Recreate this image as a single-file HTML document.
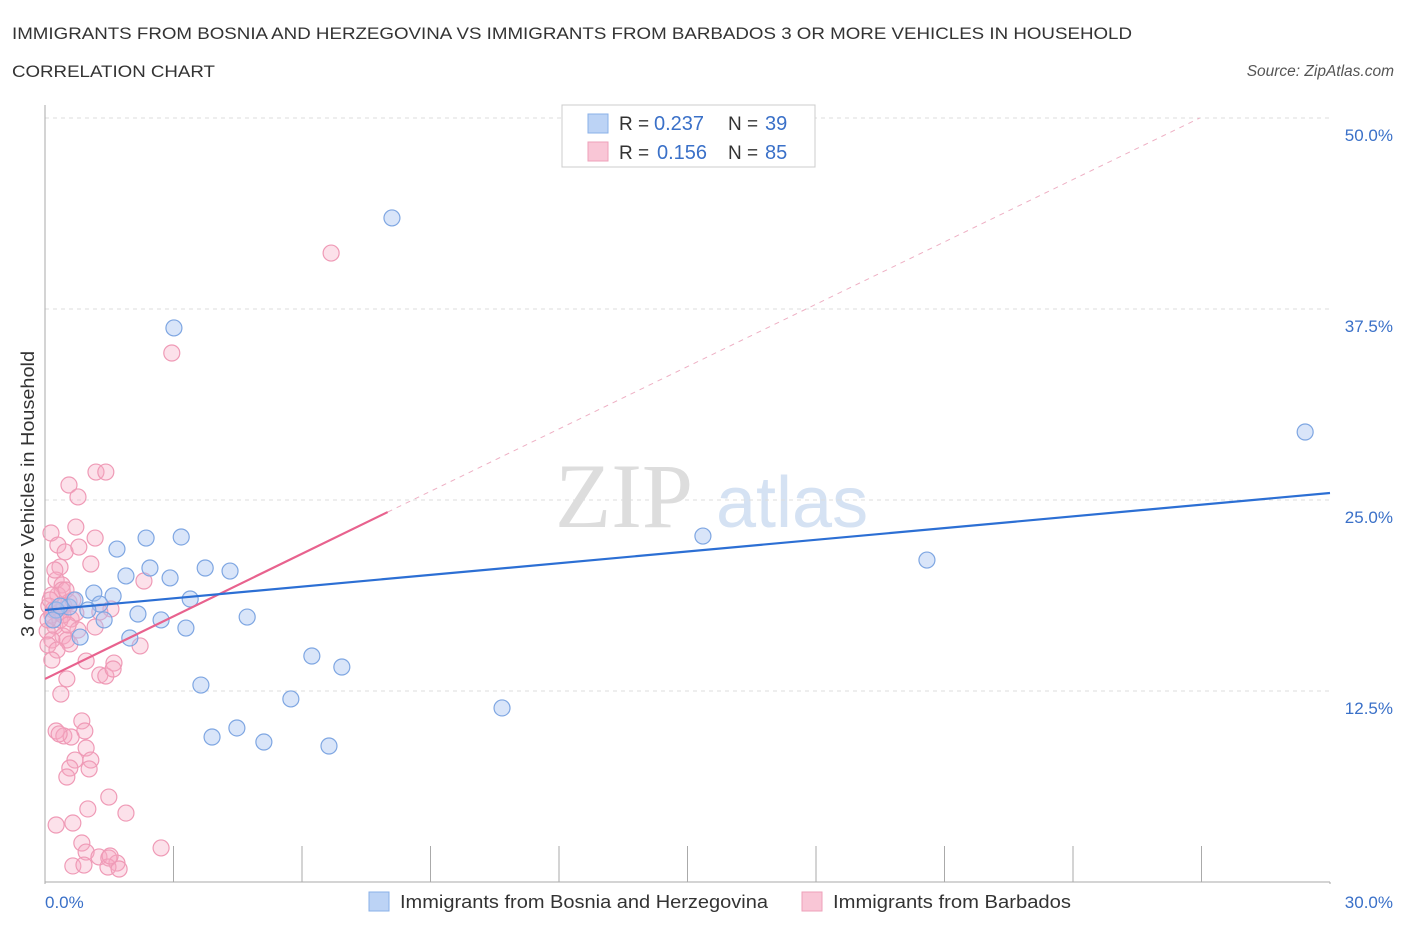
<!DOCTYPE html>
<html><head><meta charset="utf-8"><style>
body{margin:0;background:#fff;font-family:"Liberation Sans",sans-serif;}
</style></head><body>
<svg id="chart" width="1406" height="930" xmlns="http://www.w3.org/2000/svg" font-family="Liberation Sans, sans-serif">
<text x="12" y="39" font-size="17" fill="#333" textLength="1120" lengthAdjust="spacingAndGlyphs">IMMIGRANTS FROM BOSNIA AND HERZEGOVINA VS IMMIGRANTS FROM BARBADOS 3 OR MORE VEHICLES IN HOUSEHOLD</text>
<text x="12" y="77" font-size="17" fill="#333" textLength="203" lengthAdjust="spacingAndGlyphs">CORRELATION CHART</text>
<text x="1394" y="76" font-size="15.5" fill="#555" font-style="italic" text-anchor="end">Source: ZipAtlas.com</text>
<text x="555" y="527" font-size="92" fill="#ddd" font-family="Liberation Serif, serif">ZIP</text>
<text x="716" y="527" font-size="72" fill="#d5e2f3">atlas</text>
<text transform="translate(34,494) rotate(-90)" font-size="18" fill="#333" text-anchor="middle" textLength="286" lengthAdjust="spacingAndGlyphs">3 or more Vehicles in Household</text>
<g id="grid"></g><g id="axes"></g><g id="marks"></g>
<g>
<rect x="562" y="105" width="253" height="62" fill="#fff" stroke="#ccc"/>
<rect x="588" y="114" width="20" height="19" fill="#bcd3f5" stroke="#8ab0e8"/>
<text x="619" y="130" font-size="19" fill="#333">R =</text>
<text x="654" y="130" font-size="20" fill="#3a70c8">0.237</text>
<text x="728" y="130" font-size="19" fill="#333">N =</text>
<text x="765" y="130" font-size="20" fill="#3a70c8">39</text>
<rect x="588" y="142" width="20" height="19" fill="#f9c6d6" stroke="#eea0ba"/>
<text x="619" y="159" font-size="19" fill="#333">R =</text>
<text x="657" y="159" font-size="20" fill="#3a70c8">0.156</text>
<text x="728" y="159" font-size="19" fill="#333">N =</text>
<text x="765" y="159" font-size="20" fill="#3a70c8">85</text>
</g>
<g>
<rect x="369" y="892" width="20" height="19" fill="#bcd3f5" stroke="#8ab0e8"/>
<text x="400" y="908" font-size="18" fill="#333" textLength="368" lengthAdjust="spacingAndGlyphs">Immigrants from Bosnia and Herzegovina</text>
<rect x="802" y="892" width="20" height="19" fill="#f9c6d6" stroke="#eea0ba"/>
<text x="833" y="908" font-size="18" fill="#333" textLength="238" lengthAdjust="spacingAndGlyphs">Immigrants from Barbados</text>
</g>
</svg>
<script>
const yTicks=[12.5,25,37.5,50];
const yTickLabels=["12.5%","25.0%","37.5%","50.0%"];
const xTickLabels=["0.0%","30.0%"];
const blueX=[8.10,3.01,29.42,15.36,20.59,1.68,2.36,3.18,2.45,1.89,2.92,3.74,4.32,1.14,1.59,1.28,0.56,0.26,0.19,0.82,1.38,2.17,2.71,3.39,3.29,1.98,4.72,6.23,6.93,3.64,5.74,10.67,3.90,4.48,5.11,6.63,0.35,0.70,1.00];
const blueY=[43.46,36.26,29.45,22.64,21.07,21.79,22.51,22.58,20.55,20.03,19.90,20.55,20.35,18.91,18.72,18.19,18.00,17.80,17.15,16.03,17.15,17.54,17.15,18.52,16.62,15.97,17.34,14.79,14.07,12.89,11.98,11.39,9.49,10.08,9.16,8.90,18.06,18.46,17.80];
const pinkX=[6.68,2.96,1.19,1.42,0.56,0.77,0.14,0.72,1.17,0.30,0.47,0.79,1.07,2.31,0.35,0.26,0.40,0.30,0.40,0.16,0.56,0.09,0.19,0.33,0.44,0.16,0.61,0.72,1.54,1.17,0.23,0.05,0.42,0.51,0.16,0.07,0.58,2.22,0.96,1.61,1.28,1.42,1.59,0.51,0.37,0.86,0.93,0.26,0.44,0.61,0.33,0.96,0.70,1.07,1.03,0.58,0.51,1.49,1.00,1.89,0.26,0.65,0.86,2.71,0.96,0.65,0.91,1.26,1.49,1.68,1.47,1.73,1.52,0.65,0.35,0.77,0.49,0.12,0.23,1.28,0.42,0.07,0.54,0.28,0.16];
const pinkY=[41.16,34.62,26.83,26.83,25.98,25.20,22.84,23.23,22.51,22.05,21.60,21.92,20.81,19.70,20.61,19.76,19.44,18.78,19.11,18.78,18.32,18.06,17.80,17.67,18.06,17.47,17.21,17.60,17.87,16.69,16.75,16.43,16.10,15.84,15.84,15.51,15.58,15.45,14.46,14.33,13.55,13.48,13.94,13.29,12.30,10.54,9.88,9.88,9.56,9.49,9.69,8.77,7.98,7.98,7.40,7.46,6.87,5.56,4.78,4.51,3.73,3.86,2.55,2.23,1.96,1.05,1.11,1.64,1.57,1.24,0.98,0.85,1.70,18.46,17.15,16.49,19.11,18.46,20.42,17.67,17.47,17.15,16.82,15.18,14.53];
const blueTrend=[[0,17.80],[30,25.46]];
const pinkTrend=[[0,13.29],[8.0,24.21]];
const pinkDash=[[8.0,24.21],[26.96,50]];
const NS="http://www.w3.org/2000/svg";
const X0=45,X1=1330,Y0=882,Y1=118;
const sx=v=>X0+(v/30)*(X1-X0);
const sy=v=>Y0-(v/50)*(Y0-Y1);
function mk(tag,attrs,parent){const e=document.createElementNS(NS,tag);for(const k in attrs)e.setAttribute(k,attrs[k]);document.getElementById(parent).appendChild(e);return e;}
yTicks.forEach((t,i)=>{
 const g=mk('line',{x1:X0,x2:X1,y1:sy(t),y2:sy(t),stroke:'#ddd','stroke-dasharray':'4,4'},'grid');
 
 
 const l=mk('text',{x:1393,y:sy(t)+23,'font-size':17,fill:'#3a70c8','text-anchor':'end'},'axes');
 l.textContent=yTickLabels[i];
 
 
});
const ya=mk('line',{x1:X0,x2:X0,y1:105,y2:Y0,stroke:'#aaa'},'axes');


const xa=mk('line',{x1:X0,x2:X1,y1:Y0,y2:Y0,stroke:'#aaa'},'axes');


for(let i=0;i<=10;i++){
 const t=mk('line',{x1:sx(i*3),x2:sx(i*3),y1:Y0,y2:i%5==0?Y0+2:Y0-36,stroke:'#aaa'},'axes');
 if(i>0&&i<10){t.setAttribute('y1',846);t.setAttribute('y2',Y0);}
 
 
}
[[0,'start',45],[30,'end',1393]].forEach((a,i)=>{
 const l=mk('text',{x:a[2],y:908,'font-size':17,fill:'#3a70c8','text-anchor':a[1]},'axes');
 l.textContent=xTickLabels[i];
 
 
});
pinkX.forEach((x,i)=>{
 const c=mk('circle',{cx:sx(x),cy:sy(pinkY[i]),r:8,fill:'rgba(246,170,196,0.35)',stroke:'#ef9ab6','stroke-width':1.2},'marks');
 
 
});
blueX.forEach((x,i)=>{
 const c=mk('circle',{cx:sx(x),cy:sy(blueY[i]),r:8,fill:'rgba(170,198,242,0.45)',stroke:'#7ea6e2','stroke-width':1.2},'marks');
 
 
});
const pd=mk('line',{x1:sx(pinkDash[0][0]),y1:sy(pinkDash[0][1]),x2:sx(pinkDash[1][0]),y2:sy(pinkDash[1][1]),stroke:'#eeb0c4','stroke-dasharray':'5,5','stroke-width':1},'marks');


const pt=mk('line',{x1:sx(pinkTrend[0][0]),y1:sy(pinkTrend[0][1]),x2:sx(pinkTrend[1][0]),y2:sy(pinkTrend[1][1]),stroke:'#e8628e','stroke-width':2.2},'marks');


const bt=mk('line',{x1:sx(blueTrend[0][0]),y1:sy(blueTrend[0][1]),x2:sx(blueTrend[1][0]),y2:sy(blueTrend[1][1]),stroke:'#2c6fd4','stroke-width':2.2},'marks');


</script>
</body></html>
